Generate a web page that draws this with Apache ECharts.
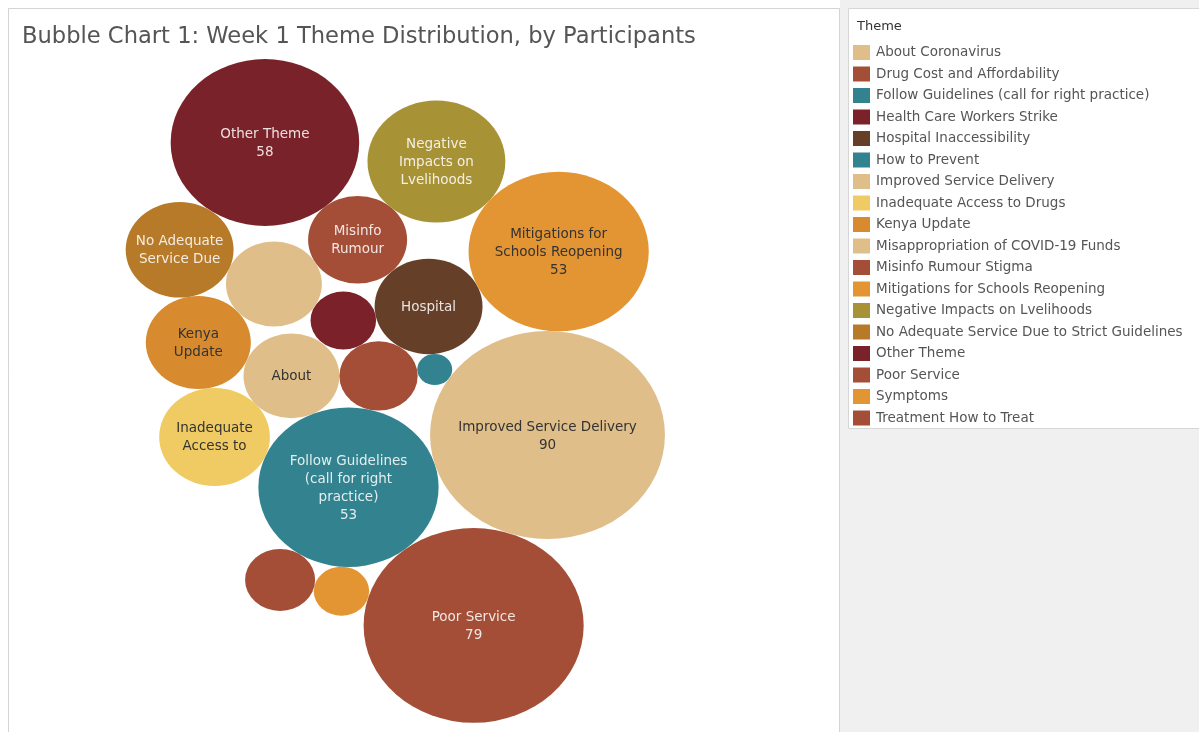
<!DOCTYPE html>
<html>
<head>
<meta charset="utf-8">
<script src="https://cdn.jsdelivr.net/npm/echarts@6/dist/echarts.min.js"></script>
<style>
  html, body { margin: 0; padding: 0; background: #ffffff; }
  #chart { width: 1199px; height: 732px; }
</style>
</head>
<body>
<div id="chart"></div>
<script>
// ---------------- DATA ----------------
const themes = [
  'About Coronavirus',
  'Drug Cost and Affordability',
  'Follow Guidelines (call for right practice)',
  'Health Care Workers Strike',
  'Hospital Inaccessibility',
  'How to Prevent',
  'Improved Service Delivery',
  'Inadequate Access to Drugs',
  'Kenya Update',
  'Misappropriation of COVID-19 Funds',
  'Misinfo Rumour Stigma',
  'Mitigations for Schools Reopening',
  'Negative Impacts on Lvelihoods',
  'No Adequate Service Due to Strict Guidelines',
  'Other Theme',
  'Poor Service',
  'Symptoms',
  'Treatment How to Treat'
];
const participants = [15, 10, 53, 7, 19, 2, 90, 20, 18, 15, 16, 53, 31, 19, 58, 79, 5, 8];
// label text as it fits inside each bubble (Tableau truncates what does not fit)
const bubbleLabels = [
  'About', '', 'Follow Guidelines\n(call for right\npractice)\n53', '', 'Hospital', '',
  'Improved Service Delivery\n90', 'Inadequate\nAccess to', 'Kenya\nUpdate', '',
  'Misinfo\nRumour', 'Mitigations for\nSchools Reopening\n53', 'Negative\nImpacts on\nLvelihoods',
  'No Adequate\nService Due', 'Other Theme\n58', 'Poor Service\n79', '', ''
];

// ---------------- STYLE ----------------
const palette = [
  '#dfbe89', '#a44e37', '#32838f', '#7a2129', '#653f28', '#32838f',
  '#dfbe89', '#f0cb63', '#d78b2e', '#dfbe89', '#a44e37', '#e39533',
  '#a89236', '#b77a28', '#7a2229', '#a44e37', '#e39533', '#a44e37'
];
const darkLabelThemes = new Set([
  'About Coronavirus', 'Improved Service Delivery', 'Inadequate Access to Drugs',
  'Kenya Update', 'Mitigations for Schools Reopening', 'Misappropriation of COVID-19 Funds', 'Symptoms'
]);
const FONT = 'DejaVu Sans';

// ---------------- PACKED-BUBBLE LAYOUT ----------------
// radius of each bubble = sqrt(value) (area proportional to value)
// each bubble is placed tangent to earlier bubbles: [theme, neighbourA, neighbourB, side]
// or [theme, neighbour, angleDeg] for seeds.
const packSteps = [
  ['Improved Service Delivery'],
  ['Follow Guidelines (call for right practice)', 'Improved Service Delivery', 163.5],
  ['Poor Service', 'Improved Service Delivery', 'Follow Guidelines (call for right practice)', -1],
  ['Symptoms', 'Follow Guidelines (call for right practice)', 'Poor Service', 1],
  ['Treatment How to Treat', 'Follow Guidelines (call for right practice)', 'Symptoms', 1],
  ['How to Prevent', 'Improved Service Delivery', -146.7],
  ['Drug Cost and Affordability', 'How to Prevent', 'Follow Guidelines (call for right practice)', 1],
  ['Hospital Inaccessibility', 'How to Prevent', 'Drug Cost and Affordability', 1],
  ['Mitigations for Schools Reopening', 'Improved Service Delivery', 'Hospital Inaccessibility', 1],
  ['Health Care Workers Strike', 'Drug Cost and Affordability', 'Hospital Inaccessibility', -1],
  ['About Coronavirus', 'Drug Cost and Affordability', 'Follow Guidelines (call for right practice)', 1],
  ['Inadequate Access to Drugs', 'About Coronavirus', 'Follow Guidelines (call for right practice)', 1],
  ['Kenya Update', 'About Coronavirus', 'Inadequate Access to Drugs', 1],
  ['Misappropriation of COVID-19 Funds', 'Health Care Workers Strike', 'Kenya Update', 1],
  ['No Adequate Service Due to Strict Guidelines', 'Misappropriation of COVID-19 Funds', 'Kenya Update', 1],
  ['Misinfo Rumour Stigma', 'Hospital Inaccessibility', 'Misappropriation of COVID-19 Funds', 1],
  ['Negative Impacts on Lvelihoods', 'Mitigations for Schools Reopening', 'Misinfo Rumour Stigma', 1],
  ['Other Theme', 'Misinfo Rumour Stigma', 'No Adequate Service Due to Strict Guidelines', 1]
];

function packBubbles() {
  const r = {};
  themes.forEach((t, i) => { r[t] = Math.sqrt(participants[i]); });
  const pos = {};
  packSteps.forEach(step => {
    const name = step[0];
    if (step.length === 1) { pos[name] = { x: 0, y: 0 }; return; }
    if (step.length === 3) {
      const A = pos[step[1]], d = r[step[1]] + r[name], ang = step[2] * Math.PI / 180;
      pos[name] = { x: A.x + d * Math.cos(ang), y: A.y + d * Math.sin(ang) };
      return;
    }
    const A = pos[step[1]], B = pos[step[2]], s = step[3];
    const dA = r[step[1]] + r[name], dB = r[step[2]] + r[name];
    const dx = B.x - A.x, dy = B.y - A.y, d = Math.hypot(dx, dy);
    const a = (dA * dA - dB * dB + d * d) / (2 * d);
    const h = Math.sqrt(Math.max(0, dA * dA - a * a));
    const px = A.x + a * dx / d, py = A.y + a * dy / d;
    pos[name] = { x: px + s * h * (-dy) / d, y: py + s * h * dx / d };
  });
  return { pos, r };
}
const packed = packBubbles();

// view mapping (Tableau stretches the bubbles horizontally)
const grid = { left: 8, top: 8, width: 832, height: 724 };
const anchor = { x: 547.5, y: 435 };     // pixel position of the layout origin
const unitY = 10.955;                    // px per layout unit vertically
const unitX = unitY * 1.13;              // px per layout unit horizontally
const xMin = (grid.left - anchor.x) / unitX;
const xMax = (grid.left + grid.width - anchor.x) / unitX;
const yMin = (grid.top - anchor.y) / unitY;
const yMax = (grid.top + grid.height - anchor.y) / unitY;

const ellipsePath = 'path://M0,50 A50,50 0 1,1 100,50 A50,50 0 1,1 0,50 Z';

const series = themes.map((t, i) => {
  const p = packed.pos[t];
  const rr = packed.r[t];
  return {
    type: 'scatter',
    name: t,
    symbol: ellipsePath,
    symbolKeepAspect: false,
    symbolSize: [2 * rr * unitX, 2 * rr * unitY],
    itemStyle: { color: palette[i], opacity: 1 },
    emphasis: { disabled: true },
    label: {
      show: bubbleLabels[i] !== '',
      position: 'inside',
      offset: [0, 1],
      formatter: bubbleLabels[i],
      fontFamily: FONT,
      fontSize: 13.5,
      lineHeight: 18,
      align: 'center',
      color: darkLabelThemes.has(t) ? '#333333' : 'rgba(255,255,255,0.86)'
    },
    data: [[p.x, p.y, participants[i]]]
  };
});

const chart = echarts.init(document.getElementById('chart'), null, { renderer: 'canvas' });
chart.setOption({
  animation: false,
  backgroundColor: '#ffffff',
  graphic: [
    { type: 'rect', z: 0, silent: true, shape: { x: 840, y: 0, width: 359, height: 732 }, style: { fill: '#f0f0f0' } },
    { type: 'rect', z: 0, silent: true, shape: { x: 8.5, y: 8.5, width: 831, height: 730 }, style: { fill: '#ffffff', stroke: '#d4d4d4', lineWidth: 1 } },
    { type: 'rect', z: 0, silent: true, shape: { x: 848.5, y: 8.5, width: 355, height: 420 }, style: { fill: '#ffffff', stroke: '#d6d6d6', lineWidth: 1 } }
  ],
  title: [
    {
      text: 'Bubble Chart 1: Week 1 Theme Distribution, by Participants',
      left: 22, top: 26, padding: 0,
      textStyle: { fontFamily: FONT, fontSize: 22.6, fontWeight: 'normal', color: '#555555' }
    },
    {
      text: 'Theme',
      left: 857, top: 20, padding: 0,
      textStyle: { fontFamily: FONT, fontSize: 13, fontWeight: 'normal', color: '#333333' }
    }
  ],
  legend: {
    orient: 'vertical',
    left: 853, top: 45, padding: 0,
    icon: 'rect',
    itemWidth: 17, itemHeight: 15, itemGap: 6.5,
    selectedMode: false,
    data: themes,
    textStyle: { fontFamily: FONT, fontSize: 13.5, color: '#555555', padding: [0, 0, 0, 1] }
  },
  grid: { left: grid.left, top: grid.top, width: grid.width, height: grid.height, containLabel: false },
  xAxis: { type: 'value', min: xMin, max: xMax, show: false, splitLine: { show: false } },
  yAxis: { type: 'value', min: yMin, max: yMax, inverse: true, show: false, splitLine: { show: false } },
  tooltip: { show: false },
  series: series
});
</script>
</body>
</html>
